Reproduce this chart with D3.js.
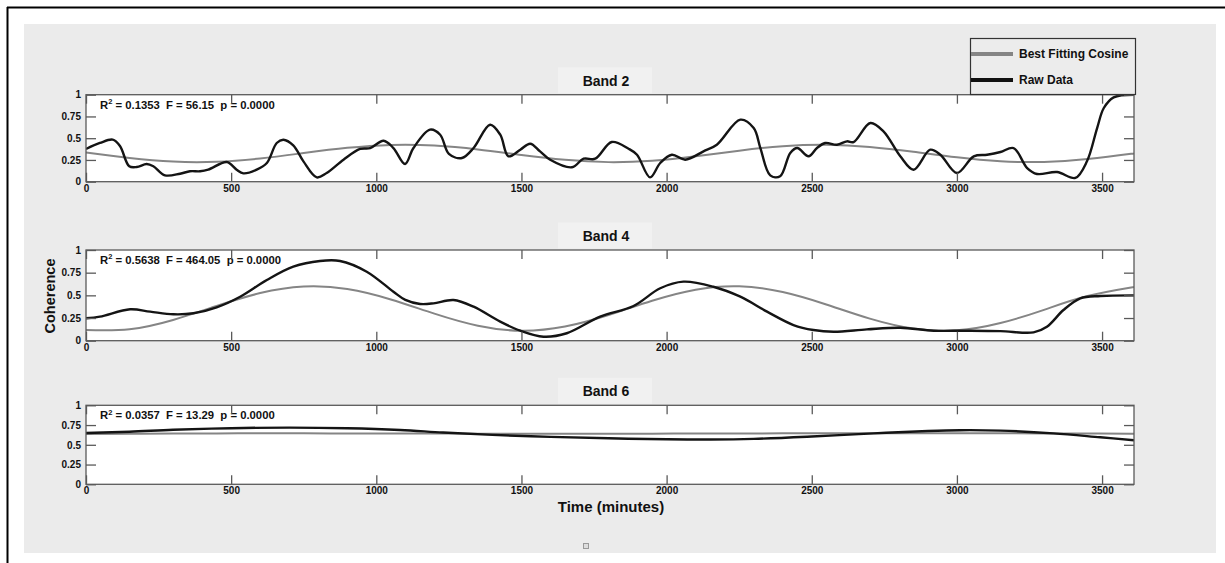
<!DOCTYPE html>
<html>
<head>
<meta charset="utf-8">
<script src="https://cdn.jsdelivr.net/npm/d3@7"></script>
<style>
html,body{margin:0;padding:0;background:#fff;}
svg{display:block;}
text{font-family:"Liberation Sans",Arial,Helvetica,sans-serif;font-weight:bold;fill:#111;}
</style>
</head>
<body>
<svg id="chart" width="1225" height="563"></svg>
<script>
// ---------- DATA ----------
const xTicks = [0,500,1000,1500,2000,2500,3000,3500];
const yTicks = [0,0.25,0.5,0.75,1];
const yTickLabels = ["0","0.25","0.5","0.75","1"];
const bandTitles = ["Band 2","Band 4","Band 6"];
const statR2 = ["0.1353","0.5638","0.0357"];
const statF = ["56.15","464.05","13.29"];
const statP = ["0.0000","0.0000","0.0000"];
const legendLabels = ["Best Fitting Cosine","Raw Data"];

const fitTime = [0,150,300,450,600,750,900,1050,1200,1350,1500,1650,1800,1950,2100,2250,2400,2550,2700,2850,3000,3150,3300,3450,3600,3610];
const band2Cosine = [0.335,0.272,0.231,0.229,0.267,0.329,0.389,0.423,0.416,0.371,0.307,0.251,0.225,0.241,0.292,0.357,0.408,0.425,0.400,0.344,0.280,0.235,0.227,0.260,0.320,0.326];
const band4Cosine = [0.119,0.127,0.229,0.383,0.525,0.597,0.570,0.455,0.298,0.165,0.110,0.156,0.283,0.440,0.562,0.599,0.536,0.399,0.243,0.134,0.115,0.195,0.340,0.492,0.587,0.592];
const band6Cosine = [0.638,0.640,0.642,0.644,0.645,0.645,0.644,0.643,0.642,0.641,0.640,0.640,0.640,0.641,0.642,0.643,0.645,0.646,0.647,0.647,0.646,0.645,0.644,0.642,0.641,0.640];

const band2RawTime = [0,48,92,117,149,175,209,232,272,324,358,393,421,485,519,542,588,623,657,680,714,749,795,829,887,944,979,1025,1059,1099,1128,1185,1220,1250,1295,1335,1392,1427,1455,1496,1530,1564,1599,1674,1714,1754,1811,1869,1898,1943,1978,2018,2064,2127,2173,2254,2300,2323,2357,2391,2426,2450,2489,2518,2546,2587,2621,2644,2702,2747,2805,2851,2908,2943,3000,3058,3104,3150,3195,3242,3276,3345,3408,3448,3483,3506,3540,3610];
const band2RawCoherence = [0.376,0.445,0.483,0.41,0.177,0.169,0.203,0.177,0.073,0.092,0.12,0.12,0.138,0.226,0.138,0.096,0.138,0.215,0.445,0.483,0.418,0.234,0.05,0.1,0.253,0.376,0.387,0.471,0.387,0.203,0.387,0.598,0.54,0.32,0.272,0.387,0.655,0.54,0.292,0.368,0.437,0.349,0.253,0.166,0.264,0.264,0.456,0.379,0.31,0.05,0.215,0.31,0.253,0.349,0.425,0.713,0.617,0.387,0.073,0.062,0.33,0.387,0.292,0.387,0.445,0.425,0.464,0.456,0.675,0.579,0.292,0.138,0.368,0.31,0.1,0.292,0.31,0.341,0.387,0.157,0.089,0.111,0.043,0.234,0.617,0.847,0.97,1.0];

const band4RawTime = [0,48,152,221,301,370,450,531,623,714,806,875,967,1059,1100,1151,1197,1266,1335,1427,1496,1576,1656,1771,1886,1978,2058,2161,2254,2346,2437,2506,2575,2690,2805,2920,3035,3150,3264,3310,3367,3425,3494,3610];
const band4RawCoherence = [0.247,0.265,0.346,0.32,0.291,0.302,0.368,0.485,0.669,0.816,0.879,0.879,0.761,0.54,0.45,0.405,0.412,0.449,0.375,0.21,0.11,0.044,0.082,0.265,0.383,0.578,0.651,0.595,0.485,0.32,0.173,0.118,0.099,0.125,0.143,0.11,0.11,0.106,0.092,0.154,0.338,0.467,0.493,0.5];

const band6RawTime = [0,150,300,500,700,900,1082,1230,1400,1600,1800,2000,2150,2300,2500,2713,2900,3011,3150,3333,3494,3610];
const band6RawCoherence = [0.65,0.665,0.69,0.71,0.718,0.71,0.688,0.655,0.625,0.6,0.582,0.57,0.567,0.575,0.605,0.645,0.675,0.685,0.68,0.645,0.595,0.558];

// ---------- LAYOUT ----------
const svg = d3.select("#chart");
const plotLeft = 86, plotRight = 1134;
const panelBoxes = [
  {top:94.7, bottom:181.7},
  {top:250, bottom:340.7},
  {top:405.3, bottom:484.3}
];
const bandCos = [band2Cosine, band4Cosine, band6Cosine];
const bandRawT = [band2RawTime, band4RawTime, band6RawTime];
const bandRawV = [band2RawCoherence, band4RawCoherence, band6RawCoherence];

// outer frame & background
svg.append("rect").attr("x",0).attr("y",0).attr("width",1225).attr("height",563).attr("fill","#fff");
svg.append("rect").attr("x",24).attr("y",24).attr("width",1192).attr("height",529).attr("fill","#ebebeb");
svg.append("line").attr("x1",7).attr("x2",1225).attr("y1",7.5).attr("y2",7.5).attr("stroke","#000").attr("stroke-width",2);
svg.append("line").attr("x1",7.5).attr("x2",7.5).attr("y1",7).attr("y2",563).attr("stroke","#000").attr("stroke-width",2);

const x = d3.scaleLinear().domain([0,3610]).range([plotLeft, plotRight]);

const rawLine = (ys) => d3.line().x(d=>x(d[0])).y(d=>ys(d[1])).curve(d3.curveCatmullRom.alpha(0.5));
const cosLine = (ys) => d3.line().x(d=>x(d[0])).y(d=>ys(d[1])).curve(d3.curveNatural);

panelBoxes.forEach((pb, i) => {
  const y = d3.scaleLinear().domain([0,1]).range([pb.bottom, pb.top]);
  const g = svg.append("g");

  // title box + title
  const titleCY = pb.top - 14;
  g.append("rect").attr("x",558).attr("y",titleCY-13.5).attr("width",94).attr("height",26).attr("fill","#f1f1f1");
  g.append("text").attr("x",606).attr("y",titleCY+5).attr("text-anchor","middle").attr("font-size",14).text(bandTitles[i]);

  // plot area
  g.append("rect").attr("x",plotLeft).attr("y",pb.top).attr("width",plotRight-plotLeft).attr("height",pb.bottom-pb.top).attr("fill","#fff");

  const clipId = "clip"+i;
  svg.append("clipPath").attr("id",clipId).append("rect")
    .attr("x",plotLeft).attr("y",pb.top-1).attr("width",plotRight-plotLeft).attr("height",pb.bottom-pb.top+2);

  const cosData = fitTime.map((t,k)=>[t,bandCos[i][k]]);
  const rawData = bandRawT[i].map((t,k)=>[t,bandRawV[i][k]]);
  const lines = g.append("g").attr("clip-path",`url(#${clipId})`);
  lines.append("path").attr("d",cosLine(y)(cosData)).attr("fill","none").attr("stroke","#858585").attr("stroke-width",2);
  lines.append("path").attr("d",rawLine(y)(rawData)).attr("fill","none").attr("stroke","#141414").attr("stroke-width",2.4);

  // stats text
  const st = g.append("text").attr("x",100).attr("y",pb.top+13.8).attr("font-size",11.3).style("white-space","pre");
  st.append("tspan").text("R");
  st.append("tspan").attr("font-size",7.5).attr("dy",-4.5).text("2");
  st.append("tspan").attr("dy",4.5).text(` = ${statR2[i]}  F = ${statF[i]}  p = ${statP[i]}`);

  // axes
  const axColor = "#5a5a5a";
  const bottom = g.append("g").attr("transform",`translate(0,${pb.bottom})`)
    .call(d3.axisBottom(x).tickValues(xTicks).tickSizeInner(-9).tickSizeOuter(0).tickPadding(3).tickFormat(d3.format("d")));
  const top = g.append("g").attr("transform",`translate(0,${pb.top})`)
    .call(d3.axisTop(x).tickValues(xTicks).tickSizeInner(-9).tickSizeOuter(0).tickFormat(""));
  const left = g.append("g").attr("transform",`translate(${plotLeft},0)`)
    .call(d3.axisLeft(y).tickValues(yTicks).tickSizeInner(-10).tickSizeOuter(0).tickPadding(5).tickFormat((d,k)=>yTickLabels[k]));
  const right = g.append("g").attr("transform",`translate(${plotRight},0)`)
    .call(d3.axisRight(y).tickValues(yTicks).tickSizeInner(-10).tickSizeOuter(0).tickFormat(""));
  [bottom,top,left,right].forEach(a=>{
    a.select(".domain").remove();
    a.selectAll("line").attr("stroke",axColor).attr("stroke-width",1.3);
    a.selectAll("text").attr("font-size",10).attr("font-family","'Liberation Sans',Arial,sans-serif").attr("font-weight","bold").attr("fill","#111");
  });
  g.append("rect").attr("x",plotLeft).attr("y",pb.top).attr("width",plotRight-plotLeft).attr("height",pb.bottom-pb.top)
    .attr("fill","none").attr("stroke",axColor).attr("stroke-width",1.3);
});

// axis labels
svg.append("text").attr("x",611).attr("y",511.5).attr("text-anchor","middle").attr("font-size",15).text("Time (minutes)");
svg.append("text").attr("transform","translate(55,296) rotate(-90)").attr("text-anchor","middle").attr("font-size",14.5).text("Coherence");

// legend
const lg = svg.append("g");
lg.append("rect").attr("x",970.5).attr("y",38.5).attr("width",165).attr("height",56).attr("fill","#ececec").attr("stroke","#333").attr("stroke-width",1.2);
lg.append("line").attr("x1",971).attr("x2",1013).attr("y1",54).attr("y2",54).attr("stroke","#858585").attr("stroke-width",4);
lg.append("line").attr("x1",971).attr("x2",1013).attr("y1",80).attr("y2",80).attr("stroke","#111").attr("stroke-width",4);
lg.append("text").attr("x",1019).attr("y",58).attr("font-size",12).text(legendLabels[0]);
lg.append("text").attr("x",1019).attr("y",84).attr("font-size",12).text(legendLabels[1]);

// small marker square
svg.append("rect").attr("x",583.5).attr("y",543.5).attr("width",5).attr("height",5).attr("fill","#ddd").attr("stroke","#999").attr("stroke-width",1);
</script>
</body>
</html>
